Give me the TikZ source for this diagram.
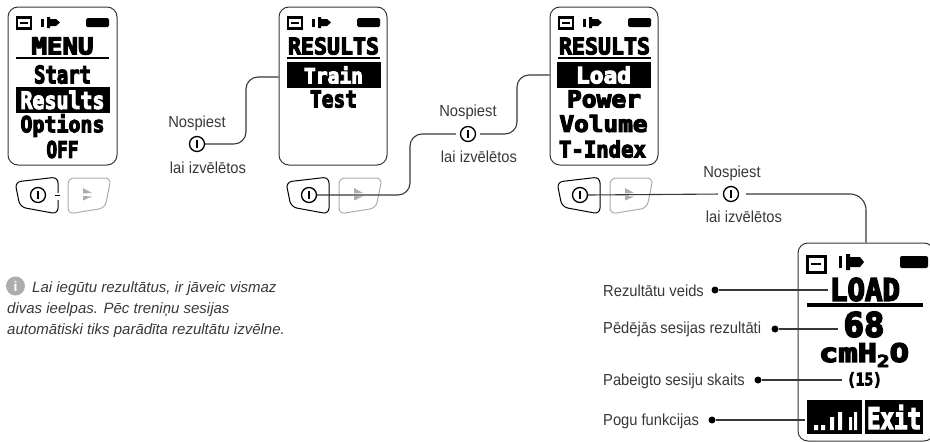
\documentclass[tikz,border=0pt]{standalone}
\usepackage{fontspec}
\usepackage{graphicx}
\usetikzlibrary{calc}
\setmainfont{Liberation Sans}
\newfontfamily\capfont[FakeStretch=0.92]{Liberation Sans}
\newfontfamily\lcdfont[BoldFeatures={FakeBold=5}]{DejaVu Sans Mono}

% pixel text of the display, stretched to a given width and height
\newcommand{\lcdtext}[3]{\resizebox{#1pt}{#2pt}{\lcdfont\bfseries #3}}

\definecolor{inkgrey}{gray}{0.22}
\definecolor{btngrey}{gray}{0.68}

\tikzset{
    lcdbody/.style={draw=inkgrey, line width=1pt, rounded corners=10pt, inner sep=0pt},
    lcdrow/.style={inner sep=0pt, text=black},
    lcdbar/.style={fill=black, text=white, inner sep=0pt},
    lcdrule/.style={line width=2.4pt, black},
    pwricon/.style={circle, draw=black, fill=white, line width=1.3pt, minimum size=15pt, inner sep=0pt,
        path picture={\draw[line width=2pt] ($(path picture bounding box.center)+(0,-4)$) -- ($(path picture bounding box.center)+(0,4)$);}},
    caption/.style={text=inkgrey, font=\capfont\fontsize{16}{18}\selectfont, inner sep=0pt},
    wire/.style={draw=inkgrey, line width=1.1pt, rounded corners=12pt},
    callout/.style={circle, fill=black, minimum size=7pt, inner sep=0pt},
    calloutline/.style={draw=inkgrey, line width=1.1pt},
    lcdhead/.pic={
        \draw[line width=2.6pt, black] (17,17.5) rectangle (31,28.5);
        \draw[line width=1.6pt, black] (20,23) -- (28,23);
        \fill[black] (41,19) rectangle (44,27);
        \fill[black] (47,17) -- (50,17) -- (50,19) -- (56,19) -- (60,22.5) -- (56,26) -- (50,26) -- (50,28) -- (47,28) -- cycle;
        \fill[black, rounded corners=1.5pt] (86,18) rectangle (109,27);
    },
    btnpair/.pic={
        \draw[black, line width=1pt, rounded corners=6pt] (58,177) -- (15,182) -- (20,207) -- (58,214) -- cycle;
        \draw[btngrey, line width=1pt, rounded corners=6pt] (68,178) -- (111,178) -- (105,208) -- (68,214) -- cycle;
        \fill[btngrey] (83,188) -- (92,193) -- (83,193.5) -- cycle;
        \fill[btngrey] (83,196) -- (92,196.5) -- (83,200.5) -- cycle;
    },
}

\begin{document}
\begin{tikzpicture}[x=1pt, y=-1pt]
    \useasboundingbox (0,0) rectangle (930,442);

    % the three small displays
    \node[lcdbody, minimum width=109pt, minimum height=158pt] (devMenu) at (62.5,86) {};
    \node[lcdbody, minimum width=108pt, minimum height=158pt] (devResults) at (333,86) {};
    \node[lcdbody, minimum width=108pt, minimum height=158pt] (devLoad) at (604,86) {};

    \foreach \dx in {0,271,542} {
        \pic at (\dx,0) {lcdhead};
        \pic at (\dx,0) {btnpair};
        \draw[lcdrule] (16+\dx,58) -- (109+\dx,58);
    }
    \draw[white, line width=2pt] (58,192.5) -- (58,200);
    \draw[black, line width=1pt] (55,195) -- (60,195);

    % menu
    \node[lcdrow] (txtMenu) at (62.5,46) {\lcdtext{62}{17}{MENU}};
    \node[lcdrow] (txtStart) at (62.5,74.5) {\lcdtext{57}{18}{Start}};
    \node[lcdbar, minimum width=94pt, minimum height=26pt] (barResults) at (62.5,100) {\lcdtext{84}{18}{Results}};
    \node[lcdrow] (txtOptions) at (62.5,125.5) {\lcdtext{84}{18}{Options}};
    \node[lcdrow] (txtOff) at (62.5,149.5) {\lcdtext{32}{17}{OFF}};

    % results
    \node[lcdrow] (txtResultsA) at (333.5,46) {\lcdtext{91}{17}{RESULTS}};
    \node[lcdbar, minimum width=94pt, minimum height=26pt] (barTrain) at (333.5,75) {\lcdtext{59}{17}{Train}};
    \node[lcdrow] (txtTest) at (333.5,99) {\lcdtext{47}{17}{Test}};

    % load
    \node[lcdrow] (txtResultsB) at (604.5,46) {\lcdtext{91}{17}{RESULTS}};
    \node[lcdbar, minimum width=94pt, minimum height=26pt] (barLoad) at (603.5,75) {\lcdtext{55}{17}{Load}};
    \node[lcdrow] (txtPower) at (604,99) {\lcdtext{74}{17}{Power}};
    \node[lcdrow] (txtVolume) at (603.5,123.5) {\lcdtext{88}{17}{Volume}};
    \node[lcdrow] (txtIndex) at (602.5,149) {\lcdtext{87}{17}{T-Index}};

    % big display
    \node[lcdbody, minimum width=136pt, minimum height=198pt] (devBig) at (866,342) {};
    \begin{scope}[shift={(796,230)}]
        \draw[line width=3pt, black] (11,26) -- (29,26) -- (29,42) -- (11,42) -- cycle;
        \draw[line width=2pt, black] (15,34) -- (25,34);
        \fill[black] (43,26) rectangle (46,38);
        \fill[black] (50,24) -- (54,24) -- (54,27) -- (64,27) -- (68,32) -- (64,37) -- (54,37) -- (54,40) -- (50,40) -- cycle;
        \fill[black, rounded corners=2pt] (104,26) rectangle (132,38);
    \end{scope}
    \node[lcdrow] (txtBigLoad) at (865,289.5) {\lcdtext{70}{23}{LOAD}};
    \draw[lcdrule, line width=3.2pt] (807,305) -- (923,305);
    \node[lcdrow] (txtValue) at (864,324.5) {\lcdtext{41}{25}{68}};
    \node[lcdrow] (txtUnit) at (864,355) {\lcdtext{90}{19}{cmH\raisebox{-2pt}{\scalebox{.65}{2}}O}};
    \node[lcdrow] (txtCount) at (864.5,380) {\lcdtext{35}{13}{(15)}};
    \node[lcdbar, minimum width=55pt, minimum height=34pt] (barGraph) at (834.5,417) {};
    \node[lcdbar, minimum width=58pt, minimum height=34pt] (barExit) at (894,417) {\lcdtext{54}{24}{Exit}};
    \fill[white] (814,425) rectangle (818,430) (821,425) rectangle (825,430) (830,417) rectangle (834,430)
        (838,412) rectangle (842,430) (849,417) rectangle (852,430) (854,412) rectangle (857,430);

    % press symbols
    \node[pwricon] (pwrA) at (197,144) {};
    \node[caption] (pressA) at (197,123) {Nospiest};
    \node[caption] (selectA) at (208,168) {lai izvēlētos};

    \node[pwricon] (pwrB) at (468,134) {};
    \node[caption] (pressB) at (468,112) {Nospiest};
    \node[caption] (selectB) at (479,157) {lai izvēlētos};

    \node[pwricon] (pwrC) at (731,194) {};
    \node[caption] (pressC) at (732,173) {Nospiest};
    \node[caption] (selectC) at (744,217) {lai izvēlētos};

    % buttons on the displays
    \node[pwricon] (btnMenu) at (38,195) {};
    \node[pwricon] (btnResults) at (309,195) {};
    \node[pwricon] (btnLoad) at (580,195) {};

    % connectors
    \draw[wire] (pwrA.east) -- (246,144) -- (246,77) -- (246,77 -| devResults.west);
    \draw[wire, shorten >=4pt] (btnResults.east) -- (410,195) -- (410,134) -- (pwrB.west);
    \draw[wire, shorten <=4pt] (pwrB.east) -- (517,134) -- (517,75) -- (517,75 -| devLoad.west);
    \draw[calloutline, shorten >=5pt] (btnLoad.east) -- (pwrC.west);
    \draw[wire, rounded corners=16pt, shorten <=7pt] (pwrC.east) -- (866,194) -- (devBig.north -| 866,0);

    % callouts
    \node[caption, anchor=west] (lblType) at (603,291) {Rezultātu veids};
    \node[caption, anchor=west] (lblLast) at (603,329) {Pēdējās sesijas rezultāti};
    \node[caption, anchor=west] (lblCount) at (603,381) {Pabeigto sesiju skaits};
    \node[caption, anchor=west] (lblKeys) at (603,421) {Pogu funkcijas};

    \node[callout] (dotType) at (715,290) {};
    \node[callout] (dotLast) at (775,329) {};
    \node[callout] (dotCount) at (758,380) {};
    \node[callout] (dotKeys) at (712,420) {};

    \draw[calloutline, shorten >=2pt] (dotType) -- (dotType -| txtBigLoad.west);
    \draw[calloutline, shorten >=5pt] (dotLast) -- (dotLast -| txtValue.west);
    \draw[calloutline, shorten >=5pt] (dotCount) -- (dotCount -| txtCount.west);
    \draw[calloutline, shorten >=2pt] (dotKeys) -- (dotKeys -| barGraph.west);

    % note
    \node[circle, fill=btngrey, text=white, minimum size=19pt, inner sep=0pt, font=\bfseries\fontsize{14}{14}\selectfont] (infoIcon) at (15.5,286) {i};
    \node[anchor=north west, align=left, inner sep=0pt, text=inkgrey, font=\itshape\fontsize{15}{21}\selectfont] (note) at (7,281)
        {\hspace*{25pt}Lai iegūtu rezultātus, ir jāveic vismaz\\divas ieelpas. Pēc treniņu sesijas\\automātiski tiks parādīta rezultātu izvēlne.};
\end{tikzpicture}
\end{document}
